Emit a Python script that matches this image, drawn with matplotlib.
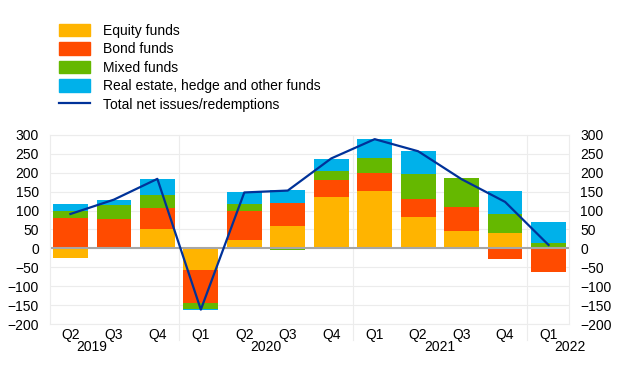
import matplotlib.pyplot as plt
import numpy as np
from matplotlib.patches import Patch
from matplotlib.lines import Line2D

plt.rcParams['font.family'] = ['Liberation Sans', 'DejaVu Sans']
plt.rcParams['font.size'] = 10

quarters = ['Q2', 'Q3', 'Q4', 'Q1', 'Q2', 'Q3', 'Q4', 'Q1', 'Q2', 'Q3', 'Q4', 'Q1']
years = ['2019', '2020', '2021', '2022']
year_pos = [0.5, 4.5, 8.5, 11.5]

equity = [-26, 0, 52, -56, 21, 58, 135, 151, 83, 46, 41, 0]
bond = [80, 78, 56, -88, 79, 63, 45, 48, 49, 64, -28, -62]
mixed = [18, 36, 32, -16, 18, -3, 26, 41, 65, 75, 50, 14]
other = [20, 15, 44, -2, 30, 34, 31, 49, 60, 0, 60, 56]
total = [91, 129, 184, -162, 148, 153, 238, 289, 257, 183, 123, 9]

series = [('Equity funds', equity, '#FFB400'),
          ('Bond funds', bond, '#FF4B00'),
          ('Mixed funds', mixed, '#65B800'),
          ('Real estate, hedge and other funds', other, '#00B1EA')]

fig = plt.figure(figsize=(6.2, 3.87), dpi=100)
ax = fig.add_axes([50/620, 63/387, 519/620, 189/387])

x = np.arange(len(quarters))
pos_base = np.zeros(len(x))
neg_base = np.zeros(len(x))
for name, vals, col in series:
    v = np.array(vals, dtype=float)
    base = np.where(v >= 0, pos_base, neg_base)
    ax.bar(x, v, 0.8, bottom=base, color=col, zorder=2)
    pos_base += np.where(v > 0, v, 0)
    neg_base += np.where(v < 0, v, 0)

ax.plot(x, total, color='#003299', lw=1.6, zorder=3)
ax.axhline(0, color='#a6a6a6', lw=1.5, zorder=2.5)

ax.set_xlim(-0.47, 11.47)
ax.set_ylim(-200, 300)
ax.set_yticks(range(-200, 301, 50))
ax.grid(axis='y', color='#ececec', lw=0.8, zorder=0)
for sep in [2.5, 6.5, 10.5]:
    ax.axvline(sep, ymin=-0.085, ymax=1, color='#ececec', lw=0.8, zorder=0, clip_on=False)
for s in ax.spines.values():
    s.set_color('#ececec')
    s.set_linewidth(0.8)

ax.set_xticks(x)
ax.set_xticklabels(quarters)
ax.tick_params(axis='x', length=0, pad=3)
ax.tick_params(axis='y', length=0, pad=8, labelright=True)
for yp, yl in zip(year_pos, years):
    ax.text(yp, -0.083, yl, transform=ax.get_xaxis_transform(), ha='center', va='top')

handles = [Patch(color=c, label=n) for n, _, c in series]
handles.append(Line2D([], [], color='#003299', lw=1.6, label='Total net issues/redemptions'))
fig.legend(handles=handles, loc='upper left', bbox_to_anchor=(59/620, 1 - 24/387),
           frameon=False, handlelength=2.2, handleheight=1.0, handletextpad=1.0,
           labelspacing=0.32, borderaxespad=0, borderpad=0)

fig.savefig('out.png', dpi=100)
